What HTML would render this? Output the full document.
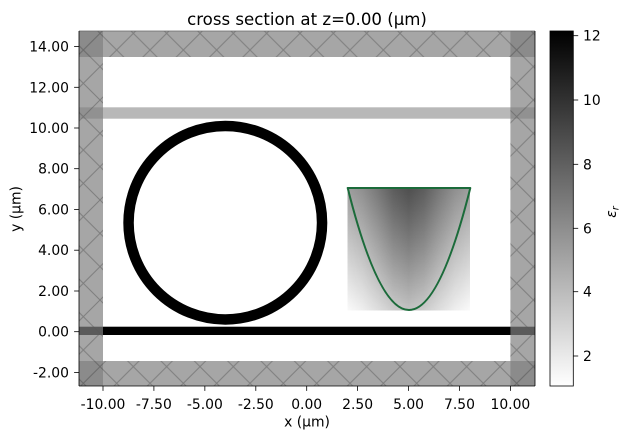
<!DOCTYPE html>
<html>
<head>
<meta charset="utf-8">
<style>
  html, body { margin: 0; padding: 0; background: #ffffff; }
  svg { display: block; }
  text { font-family: "DejaVu Sans", "Liberation Sans", sans-serif; fill: #000; }
</style>
</head>
<body>
<svg width="630" height="439" viewBox="0 0 630 439" xmlns="http://www.w3.org/2000/svg">
  <defs>
    <pattern id="h" patternUnits="userSpaceOnUse" x="0" y="0" width="33.333" height="33.333">
      <path d="M-5,-5 L38.333,38.333 M-5,38.333 L38.333,-5" stroke="rgba(85,85,85,0.5)" stroke-width="1" fill="none"/>
    </pattern>
    <linearGradient id="cb" x1="0" y1="1" x2="0" y2="0">
      <stop offset="0" stop-color="#ffffff"/>
      <stop offset="1" stop-color="#000000"/>
    </linearGradient>
    <linearGradient id="gA" x1="0" y1="0" x2="0" y2="1">
      <stop offset="0" stop-color="#000" stop-opacity="0.38"/>
      <stop offset="1" stop-color="#000" stop-opacity="0.02"/>
    </linearGradient>
    <linearGradient id="gB" x1="0" y1="0" x2="0" y2="1">
      <stop offset="0" stop-color="#000" stop-opacity="0.5"/>
      <stop offset="1" stop-color="#000" stop-opacity="0.22"/>
    </linearGradient>
    <linearGradient id="bump" x1="0" y1="0" x2="1" y2="0">
      <stop offset="0" stop-color="#fff" stop-opacity="0"/>
      <stop offset="0.125" stop-color="#fff" stop-opacity="0.2"/>
      <stop offset="0.25" stop-color="#fff" stop-opacity="0.5"/>
      <stop offset="0.375" stop-color="#fff" stop-opacity="0.83"/>
      <stop offset="0.5" stop-color="#fff" stop-opacity="1"/>
      <stop offset="0.625" stop-color="#fff" stop-opacity="0.83"/>
      <stop offset="0.75" stop-color="#fff" stop-opacity="0.5"/>
      <stop offset="0.875" stop-color="#fff" stop-opacity="0.2"/>
      <stop offset="1" stop-color="#fff" stop-opacity="0"/>
    </linearGradient>
    <mask id="m" maskUnits="userSpaceOnUse" x="347.5" y="188" width="122.5" height="122.5">
      <rect x="347.5" y="188" width="122.5" height="122.5" fill="url(#bump)"/>
    </mask>
    <clipPath id="ax"><rect x="79" y="31" width="456" height="355"/></clipPath>
  </defs>

  <!-- Title -->
  <text x="307" y="25" font-size="16.6" text-anchor="middle">cross section at z=0.00 (μm)</text>

  <g clip-path="url(#ax)">
    <!-- structures -->
    <rect x="79" y="107.3" width="456" height="11.4" fill="#b8b8b8"/>
    <rect x="79" y="326.7" width="456" height="8.3" fill="#000"/>
    <circle cx="225.3" cy="222.7" r="96.75" fill="none" stroke="#000" stroke-width="10.5"/>
    <rect x="347.5" y="188" width="122.5" height="122.5" fill="url(#gA)"/>
    <rect x="347.5" y="188" width="122.5" height="122.5" fill="url(#gB)" mask="url(#m)"/>
    <path d="M347.7,188 L470.3,188 Q409,432 347.7,188 Z" fill="none" stroke="#1b6b3a" stroke-width="2" stroke-linejoin="round"/>

    <!-- PML regions -->
    <rect x="79" y="31" width="24" height="355" fill="rgba(128,128,128,0.7)"/>
    <rect x="79" y="31" width="24" height="355" fill="url(#h)"/>
    <rect x="510.4" y="31" width="24.6" height="355" fill="rgba(128,128,128,0.7)"/>
    <rect x="510.4" y="31" width="24.6" height="355" fill="url(#h)"/>
    <rect x="79" y="31" width="456" height="26" fill="rgba(128,128,128,0.7)"/>
    <rect x="79" y="31" width="456" height="26" fill="url(#h)"/>
    <rect x="79" y="361" width="456" height="25" fill="rgba(128,128,128,0.7)"/>
    <rect x="79" y="361" width="456" height="25" fill="url(#h)"/>
  </g>

  <!-- spines -->
  <line x1="79" y1="31" x2="535" y2="31" stroke="#666" stroke-width="0.8"/>
  <line x1="79" y1="31" x2="79" y2="386" stroke="#000" stroke-width="0.8"/>
  <line x1="535" y1="31" x2="535" y2="386" stroke="#000" stroke-width="0.8"/>
  <line x1="79" y1="386" x2="535" y2="386" stroke="#000" stroke-width="0.8"/>

  <!-- x ticks -->
  <g stroke="#000" stroke-width="0.8">
    <line x1="103" y1="386" x2="103" y2="390.9"/>
    <line x1="153.9" y1="386" x2="153.9" y2="390.9"/>
    <line x1="204.85" y1="386" x2="204.85" y2="390.9"/>
    <line x1="255.8" y1="386" x2="255.8" y2="390.9"/>
    <line x1="306.7" y1="386" x2="306.7" y2="390.9"/>
    <line x1="357.6" y1="386" x2="357.6" y2="390.9"/>
    <line x1="408.55" y1="386" x2="408.55" y2="390.9"/>
    <line x1="459.5" y1="386" x2="459.5" y2="390.9"/>
    <line x1="510.4" y1="386" x2="510.4" y2="390.9"/>
  </g>
  <g font-size="13.9" text-anchor="middle">
    <text x="103" y="409">-10.00</text>
    <text x="153.9" y="409">-7.50</text>
    <text x="204.85" y="409">-5.00</text>
    <text x="255.8" y="409">-2.50</text>
    <text x="306.7" y="409">0.00</text>
    <text x="357.6" y="409">2.50</text>
    <text x="408.55" y="409">5.00</text>
    <text x="459.5" y="409">7.50</text>
    <text x="510.4" y="409">10.00</text>
  </g>
  <text x="307" y="426.5" font-size="13.9" text-anchor="middle">x (μm)</text>

  <!-- y ticks -->
  <g stroke="#000" stroke-width="0.8">
    <line x1="74.1" y1="372.4" x2="79" y2="372.4"/>
    <line x1="74.1" y1="331.7" x2="79" y2="331.7"/>
    <line x1="74.1" y1="291" x2="79" y2="291"/>
    <line x1="74.1" y1="250.2" x2="79" y2="250.2"/>
    <line x1="74.1" y1="209.5" x2="79" y2="209.5"/>
    <line x1="74.1" y1="168.7" x2="79" y2="168.7"/>
    <line x1="74.1" y1="128" x2="79" y2="128"/>
    <line x1="74.1" y1="87.3" x2="79" y2="87.3"/>
    <line x1="74.1" y1="46.5" x2="79" y2="46.5"/>
  </g>
  <g font-size="13.9" text-anchor="end">
    <text x="69" y="377.4">-2.00</text>
    <text x="69" y="336.7">0.00</text>
    <text x="69" y="296">2.00</text>
    <text x="69" y="255.2">4.00</text>
    <text x="69" y="214.5">6.00</text>
    <text x="69" y="173.7">8.00</text>
    <text x="69" y="133">10.00</text>
    <text x="69" y="92.3">12.00</text>
    <text x="69" y="51.5">14.00</text>
  </g>
  <text transform="translate(20.5,209) rotate(-90)" font-size="13.9" text-anchor="middle">y (μm)</text>

  <!-- colorbar -->
  <rect x="550" y="31" width="23.3" height="355" fill="url(#cb)" stroke="#000" stroke-width="0.8"/>
  <g stroke="#000" stroke-width="0.8">
    <line x1="573.3" y1="35.7" x2="578.2" y2="35.7"/>
    <line x1="573.3" y1="100" x2="578.2" y2="100"/>
    <line x1="573.3" y1="164.3" x2="578.2" y2="164.3"/>
    <line x1="573.3" y1="228.3" x2="578.2" y2="228.3"/>
    <line x1="573.3" y1="291.7" x2="578.2" y2="291.7"/>
    <line x1="573.3" y1="356" x2="578.2" y2="356"/>
  </g>
  <g font-size="13.9" text-anchor="start">
    <text x="583" y="40.7">12</text>
    <text x="583" y="105">10</text>
    <text x="583" y="169.3">8</text>
    <text x="583" y="233.3">6</text>
    <text x="583" y="296.7">4</text>
    <text x="583" y="361">2</text>
  </g>
  <text transform="translate(616,212) rotate(-90)" font-size="13.9" text-anchor="middle"><tspan font-style="italic">ε</tspan><tspan font-style="italic" font-size="9.7" dy="2.5">r</tspan></text>
</svg>
</body>
</html>
